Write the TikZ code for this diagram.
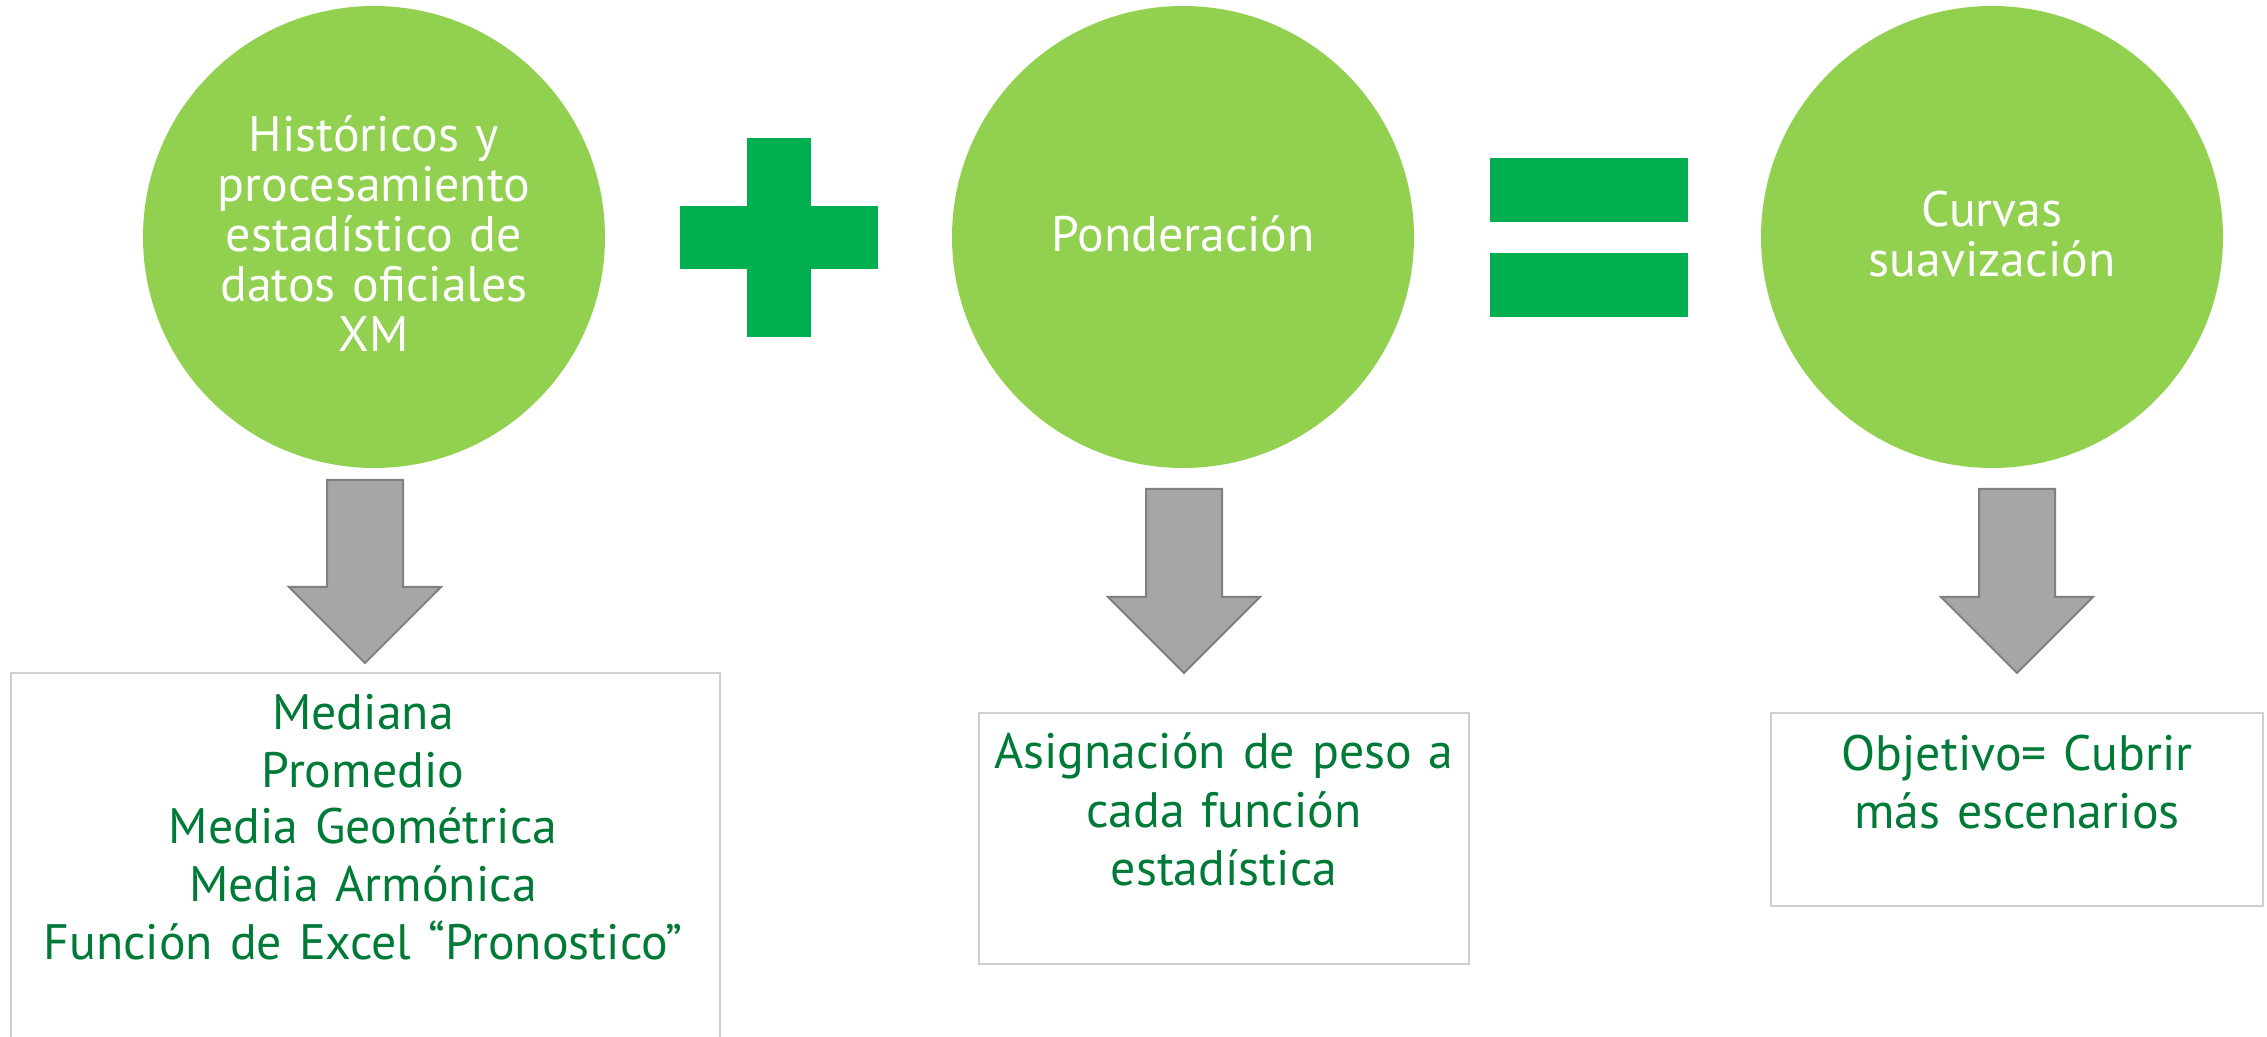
\documentclass[tikz,border=0pt]{standalone}
\usepackage{fontspec}
\setmainfont{PT Sans}
\definecolor{circgreen}{RGB}{146,208,80}
\definecolor{signgreen}{RGB}{0,176,80}
\definecolor{txtgreen}{RGB}{0,122,55}
\definecolor{arrfill}{RGB}{166,166,166}
\definecolor{arrline}{RGB}{128,128,128}
\definecolor{boxline}{RGB}{208,208,208}
\newcommand\blockarrow[4]{% name, center x, top y, head y
  \draw[blockarrowstyle] ({#2-38},#3) -- ({#2+38},#3) -- ({#2+38},#4) -- ({#2+76},#4)
    -- (#2,{#4+76}) -- ({#2-76},#4) -- ({#2-38},#4) -- cycle;
  \coordinate (#1) at (#2,{#4+76});}
\newcommand\lblfont{\fontsize{24.9}{29}\selectfont\spaceskip=0.34em plus 0.1em minus 0.05em\relax}
\begin{document}
\begin{tikzpicture}[x=0.5pt,y=-0.5pt,
  bubble/.style={circle, fill=circgreen, draw=none, minimum size=231pt, inner sep=0pt},
  signbar/.style={rectangle, fill=signgreen, draw=none, inner sep=0pt},
  blockarrowstyle/.style={fill=arrfill, draw=arrline, line width=1pt, line join=miter},
  resultbox/.style={rectangle, draw=boxline, line width=1pt, fill=white, inner sep=0pt},
  wlbl/.style={anchor=base, inner sep=0pt, text=white, font=\lblfont},
  glbl/.style={anchor=base, inner sep=0pt, text=txtgreen, font=\lblfont}]
\useasboundingbox (0,0) rectangle (2267,1037);
\clip (0,0) rectangle (2267,1037);
\fill[white] (0,0) rectangle (2267,1037);
% circles
\node[bubble] (c1) at (374,237) {};
\node[bubble] (c2) at (1183,237) {};
\node[bubble] (c3) at (1992,237) {};
\node[wlbl] (c1a) at (374,152) {Históricos y};
\node[wlbl] (c1b) at (374,202) {procesamiento};
\node[wlbl] (c1c) at (374,252) {estadístico de};
\node[wlbl] (c1d) at (374,302) {datos oficiales};
\node[wlbl] (c1e) at (374,352) {XM};
\node[wlbl] (c2a) at (1183,252) {Ponderación};
\node[wlbl] (c3a) at (1992,227) {Curvas};
\node[wlbl] (c3b) at (1992,277) {suavización};
% plus and equals
\node[signbar, minimum width=32pt, minimum height=99.5pt] (plusv) at (779,237.5) {};
\node[signbar, minimum width=99pt, minimum height=31.5pt] (plush) at (779,237.5) {};
\node[signbar, minimum width=99pt, minimum height=32pt] (eqtop) at (1589,190) {};
\node[signbar, minimum width=99pt, minimum height=32pt] (eqbot) at (1589,285) {};
% block arrows
\blockarrow{a1}{365}{480}{587}
\blockarrow{a2}{1184}{489}{597}
\blockarrow{a3}{2017}{489}{597}
% boxes
\node[resultbox, minimum width=354.5pt, minimum height=188.5pt] (b1) at (365.5,861.5) {};
\node[resultbox, minimum width=245pt, minimum height=125.5pt] (b2) at (1224,838.5) {};
\node[resultbox, minimum width=246pt, minimum height=96.5pt] (b3) at (2017,809.5) {};
\node[glbl] (b1a) at (363,729) {Mediana};
\node[glbl] (b1b) at (363,787) {Promedio};
\node[glbl] (b1c) at (363,843) {Media Geométrica};
\node[glbl] (b1d) at (363,901) {Media Armónica};
\node[glbl] (b1e) at (363,959) {Función de Excel “Pronostico”};
\node[glbl] (b2a) at (1224,769) {Asignación de peso a};
\node[glbl] (b2b) at (1224,827) {cada función};
\node[glbl] (b2c) at (1224,885) {estadística};
\node[glbl] (b3a) at (2017,770) {Objetivo= Cubrir};
\node[glbl] (b3b) at (2017,828) {más escenarios};
\end{tikzpicture}
\end{document}
